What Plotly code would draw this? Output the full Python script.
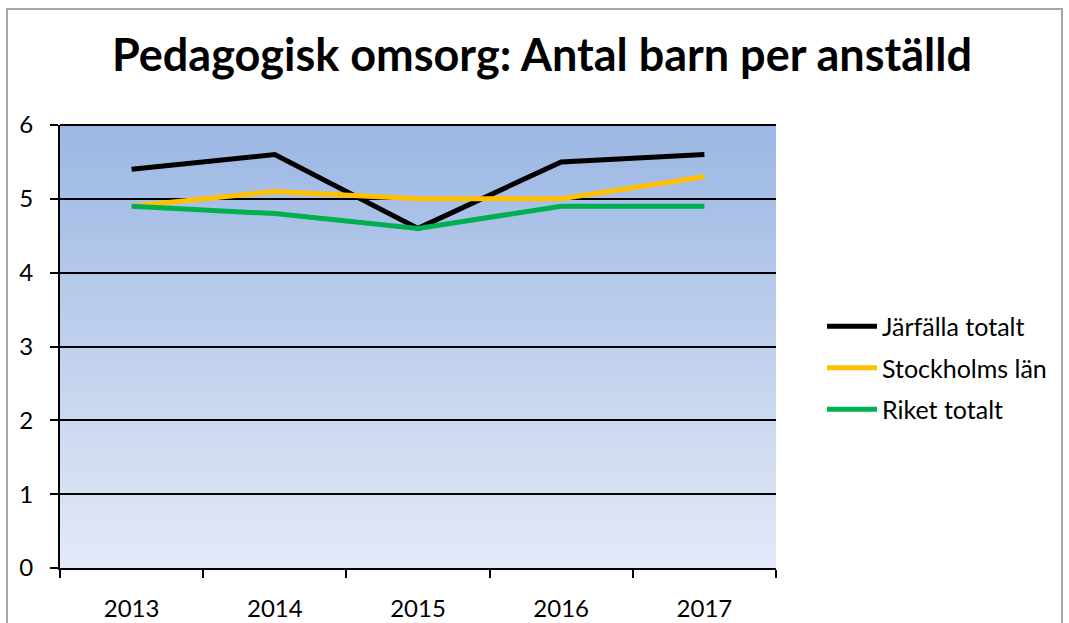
import plotly.graph_objects as go

years = ["2013", "2014", "2015", "2016", "2017"]
jarfalla = [5.4, 5.6, 4.6, 5.5, 5.6]
stockholm = [4.9, 5.1, 5.0, 5.0, 5.3]
riket = [4.9, 4.8, 4.6, 4.9, 4.9]
series_names = ["Järfälla totalt", "Stockholms län", "Riket totalt"]
series_colors = ["#000000", "#FFC000", "#00B050"]
y_ticks = [0, 1, 2, 3, 4, 5, 6]

fig = go.Figure()
for i, (name, vals, col) in enumerate(zip(series_names, [jarfalla, stockholm, riket], series_colors)):
    fig.add_trace(go.Scatter(x=years, y=vals, mode="lines", name=name, legendgroup="g%d" % i,
                             line=dict(color=col, width=5)))

# gradient background (top darker blue to light bottom)
top = (155, 183, 227)
bot = (227, 233, 247)
n = 80
shapes = []
for i in range(n):
    t = i / (n - 1)
    c = tuple(round(top[k] + (bot[k] - top[k]) * t) for k in range(3))
    y1 = min(1, 1 - i / n + 0.006)
    shapes.append(dict(type="rect", xref="x domain", yref="y domain",
                       x0=0, x1=1, y0=1 - (i + 1) / n, y1=y1,
                       fillcolor="rgb(%d,%d,%d)" % c, line=dict(width=0), layer="below"))
# outer chart border
W, H = 1069, 623
L, R, T, B = 60, 293, 125, 55
pw, ph = W - L - R, H - T - B
shapes.append(dict(type="rect", xref="paper", yref="paper",
                   x0=(7 - L) / pw, x1=(1062 - L) / pw,
                   y0=(H - B - 640) / ph, y1=(H - B - 9) / ph,
                   line=dict(color="#A6A6A6", width=2), fillcolor="rgba(0,0,0,0)", layer="below"))

fig.update_layout(
    width=W, height=H,
    margin=dict(l=L, r=R, t=T, b=B, autoexpand=False),
    paper_bgcolor="white", plot_bgcolor="rgba(0,0,0,0)",
    shapes=shapes,
    title=dict(text="<b>Pedagogisk omsorg: Antal barn per anställd</b>",
               font=dict(family="Lato", size=45, color="black"),
               x=0.507, xanchor="center", y=1 - 55 / H, yanchor="middle"),
    font=dict(family="Lato", size=24, color="black"),
    legend=dict(x=(822 - L) / pw, xanchor="left", y=(H - B - 368) / ph, yanchor="middle",
                font=dict(size=25), bgcolor="rgba(0,0,0,0)", tracegroupgap=6,
                itemwidth=50),
    showlegend=True,
    xaxis=dict(type="category", range=[-0.5, 4.5], showgrid=False, automargin=False,
               showline=True, linecolor="black", linewidth=2,
               ticks="outside", tickson="boundaries", ticklen=8, tickwidth=1.5,
               tickcolor="black", ticklabelstandoff=18, zeroline=False),
    yaxis=dict(range=[0, 6], tickvals=y_ticks, showgrid=True, gridcolor="black", automargin=False,
               gridwidth=1.5, showline=True, linecolor="black", linewidth=2,
               ticks="outside", ticklen=8, tickwidth=1.5, tickcolor="black",
               ticklabelstandoff=12, zeroline=False),
)
fig.add_shape(type="line", xref="x domain", yref="y domain", x0=0, x1=1, y0=1, y1=1,
              line=dict(color="black", width=2))

fig.write_html("out.html", config={"displayModeBar": False},
               post_script="document.body.style.margin='0';document.body.style.overflow='hidden';")
